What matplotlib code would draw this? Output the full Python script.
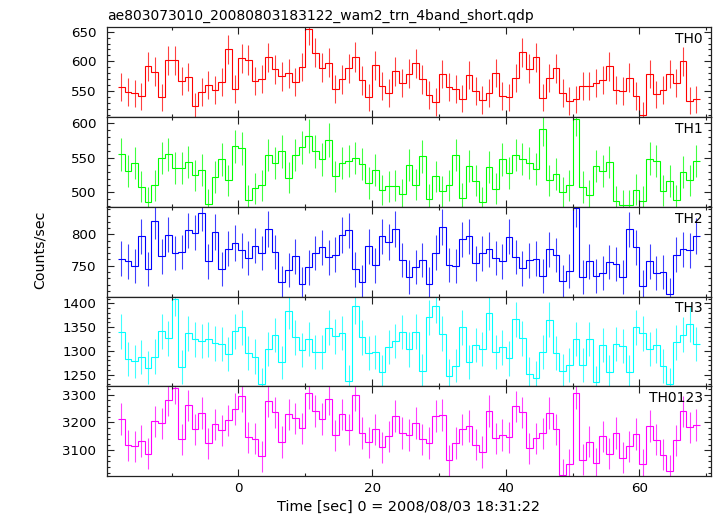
import numpy as np
import matplotlib
matplotlib.use("Agg")
import matplotlib.pyplot as plt
from matplotlib.ticker import MultipleLocator

plt.rcParams['font.family'] = ['DejaVu Sans']

title = "ae803073010_20080803183122_wam2_trn_4band_short.qdp"
xlabel = "Time [sec] 0 = 2008/08/03 18:31:22"
ylabel = "Counts/sec"

time_start = -18.0   # left edge of first bin [s]
bin_width = 1.0      # [s]

th0 = [556.2, 547.8, 546.0, 541.0, 591.6, 582.6, 539.3, 601.7, 601.7, 566.9,
       573.6, 524.2, 547.8, 560.0, 551.7, 565.2, 620.0, 552.8, 605.0, 602.2,
       566.9, 570.8, 606.7, 586.5, 574.7, 579.8, 565.2, 590.4, 653.9, 614.6,
       589.3, 597.8, 553.4, 569.7, 588.2, 607.3, 568.0, 539.3, 593.8, 557.9,
       546.6, 583.1, 563.5, 579.2, 596.6, 569.7, 543.3, 531.5, 578.7, 556.2,
       552.8, 537.1, 577.0, 550.0, 534.8, 546.1, 580.3, 541.6, 539.3, 571.9,
       615.2, 587.6, 606.7, 538.8, 571.9, 588.2, 547.2, 533.1, 536.0, 558.4,
       558.4, 562.9, 568.5, 591.6, 551.1, 550.0, 572.5, 542.1, 509.6, 578.7,
       544.4, 551.1, 578.7, 563.5, 600.0, 533.7, 536.0]

th1 = [555.1, 531.4, 542.5, 508.2, 486.0, 510.1, 549.3, 555.1, 535.7, 535.7,
       543.5, 524.6, 532.4, 482.6, 522.2, 547.8, 517.4, 566.7, 563.8, 488.4,
       505.8, 510.1, 554.1, 542.5, 559.4, 521.3, 554.1, 565.2, 581.6, 559.4,
       547.8, 575.8, 523.2, 542.5, 544.9, 549.8, 541.1, 513.5, 531.9, 503.4,
       508.7, 509.7, 497.6, 539.6, 511.1, 552.2, 489.9, 523.2, 501.4, 510.1,
       554.1, 491.8, 537.7, 516.9, 486.0, 536.2, 505.3, 547.8, 528.0, 554.1,
       548.3, 542.0, 533.3, 591.8, 517.4, 526.6, 500.5, 510.1, 605.8, 507.7,
       495.7, 538.2, 530.9, 544.4, 487.4, 482.1, 482.1, 503.9, 487.4, 548.8,
       545.9, 502.4, 516.4, 488.4, 529.5, 517.4, 544.9]

th2 = [761.2, 756.9, 749.5, 796.8, 744.7, 821.8, 764.9, 799.5, 770.2, 771.8,
       806.4, 802.7, 833.5, 756.9, 803.7, 744.7, 777.1, 786.2, 774.5, 762.2,
       781.9, 770.2, 809.0, 771.8, 723.4, 743.6, 764.9, 721.3, 747.3, 770.2,
       779.3, 763.3, 767.6, 798.9, 806.4, 744.1, 723.9, 780.9, 750.5, 796.8,
       787.8, 809.0, 759.0, 731.4, 748.4, 759.0, 720.7, 770.7, 812.2, 751.1,
       750.0, 792.0, 796.8, 753.7, 769.7, 776.1, 762.2, 756.9, 796.3, 763.8,
       745.7, 758.5, 761.2, 733.0, 776.6, 767.0, 725.0, 741.5, 841.5, 731.9,
       756.9, 733.0, 738.3, 755.9, 753.2, 731.4, 808.0, 779.3, 717.0, 756.9,
       738.8, 739.4, 704.3, 767.6, 776.6, 775.0, 797.3]

th3 = [1340.1, 1282.4, 1277.5, 1287.3, 1264.8, 1288.0, 1340.8, 1326.1, 1409.9, 1266.2,
       1336.6, 1323.9, 1320.4, 1323.9, 1315.5, 1314.1, 1293.0, 1340.8, 1350.0, 1295.8,
       1288.0, 1229.6, 1304.2, 1333.1, 1275.4, 1383.1, 1328.2, 1301.4, 1324.6, 1297.2,
       1297.2, 1348.6, 1330.3, 1337.3, 1235.9, 1393.7, 1328.2, 1295.1, 1297.9, 1254.9,
       1307.7, 1320.4, 1339.4, 1302.8, 1340.1, 1257.0, 1370.4, 1395.1, 1335.9, 1247.9,
       1269.0, 1349.3, 1276.1, 1312.0, 1304.2, 1380.3, 1297.2, 1307.0, 1283.8, 1366.2,
       1326.1, 1251.4, 1242.9, 1297.2, 1365.5, 1295.8, 1257.0, 1269.7, 1324.6, 1269.7,
       1324.6, 1233.8, 1312.7, 1254.9, 1314.1, 1309.9, 1254.9, 1350.0, 1336.6, 1303.5,
       1311.3, 1267.6, 1229.6, 1317.6, 1333.8, 1355.6, 1314.1]

th0123 = [3213.1, 3117.9, 3114.3, 3133.3, 3086.9, 3203.6, 3196.4, 3282.1, 3322.6, 3139.3,
          3260.7, 3175.0, 3233.3, 3125.0, 3192.9, 3171.4, 3207.1, 3247.6, 3295.2, 3146.4,
          3141.7, 3078.6, 3275.0, 3235.7, 3129.8, 3228.6, 3214.3, 3178.6, 3307.1, 3240.5,
          3213.1, 3285.7, 3153.6, 3228.6, 3173.8, 3297.6, 3161.9, 3128.6, 3175.0, 3110.7,
          3150.0, 3222.6, 3161.9, 3154.8, 3197.6, 3139.3, 3126.2, 3222.6, 3226.2, 3064.3,
          3126.2, 3175.0, 3186.9, 3120.2, 3094.0, 3240.5, 3142.9, 3154.8, 3146.4, 3257.1,
          3235.7, 3107.1, 3142.9, 3160.7, 3233.3, 3175.0, 3013.1, 3051.2, 3307.1, 3066.7,
          3131.0, 3054.8, 3150.0, 3086.9, 3161.9, 3073.8, 3114.3, 3158.3, 3050.0, 3188.1,
          3138.1, 3084.5, 3027.4, 3135.7, 3239.3, 3182.1, 3190.5]

panel_names = ["TH0", "TH1", "TH2", "TH3", "TH0123"]
panel_data = [th0, th1, th2, th3, th0123]
panel_colors = ["#ff0000", "#00ff00", "#0000ff", "#00ffff", "#ff00ff"]
panel_ylims = [(506.2, 657.4), (479.1, 609.1), (700.9, 844.0), (1225.3, 1414.4), (3008.0, 3329.6)]
panel_major = [50, 50, 50, 50, 100]
panel_minor = [10, 10, 10, 10, 20]

W, H = 717, 516
fig = plt.figure(figsize=(W / 100, H / 100), dpi=100)

left, right = 106.7 / W, 711.0 / W
top_px, bot_px = 27.3, 476.0
ph = (bot_px - top_px) / 5

axes = []
for i in range(5):
    y0 = 1 - (top_px + (i + 1) * ph) / H
    ax = fig.add_axes([left, y0, right - left, ph / H])
    axes.append(ax)

for i, ax in enumerate(axes):
    vals = np.asarray(panel_data[i], dtype=float)
    n = len(vals)
    edges = time_start + bin_width * np.arange(n + 1)
    centers = 0.5 * (edges[:-1] + edges[1:])
    err = np.sqrt(vals * bin_width) / bin_width
    col = panel_colors[i]
    ax.errorbar(centers, vals, yerr=err, fmt='none', ecolor=col,
                elinewidth=0.8, alpha=0.75, capsize=0)
    ax.stairs(vals, edges, baseline=None, color=col, linewidth=0.8)
    ax.set_xlim(-19.7, 70.7)
    ax.set_ylim(*panel_ylims[i])
    ax.xaxis.set_major_locator(MultipleLocator(20))
    ax.xaxis.set_minor_locator(MultipleLocator(10))
    ax.yaxis.set_major_locator(MultipleLocator(panel_major[i]))
    ax.yaxis.set_minor_locator(MultipleLocator(panel_minor[i]))
    ax.tick_params(which='both', direction='in', top=True, right=True,
                   colors='#222222', labelcolor='black', labelsize=9.6)
    ax.tick_params(which='major', length=4.7, width=0.8)
    ax.tick_params(which='minor', length=2.4, width=0.8)
    ax.tick_params(axis='y', pad=7.5)
    ax.tick_params(axis='x', pad=4.3)
    for sp in ax.spines.values():
        sp.set_color('#222222')
        sp.set_linewidth(0.9)
    if i < 4:
        ax.tick_params(axis='x', labelbottom=False)
    ax.text(0.986, 0.945, panel_names[i], transform=ax.transAxes,
            ha='right', va='top', fontsize=10)

fig.text(107 / W, 1 - 20 / H, title, ha='left', va='baseline', fontsize=10)
fig.text((106.7 + 711) / 2 / W, 1 - 511 / H, xlabel, ha='center', va='baseline', fontsize=10.4)
fig.text(40 / W, 1 - 250 / H, ylabel, ha='center', va='center', rotation=90, fontsize=10.2)

fig.savefig("out.png", dpi=100)
